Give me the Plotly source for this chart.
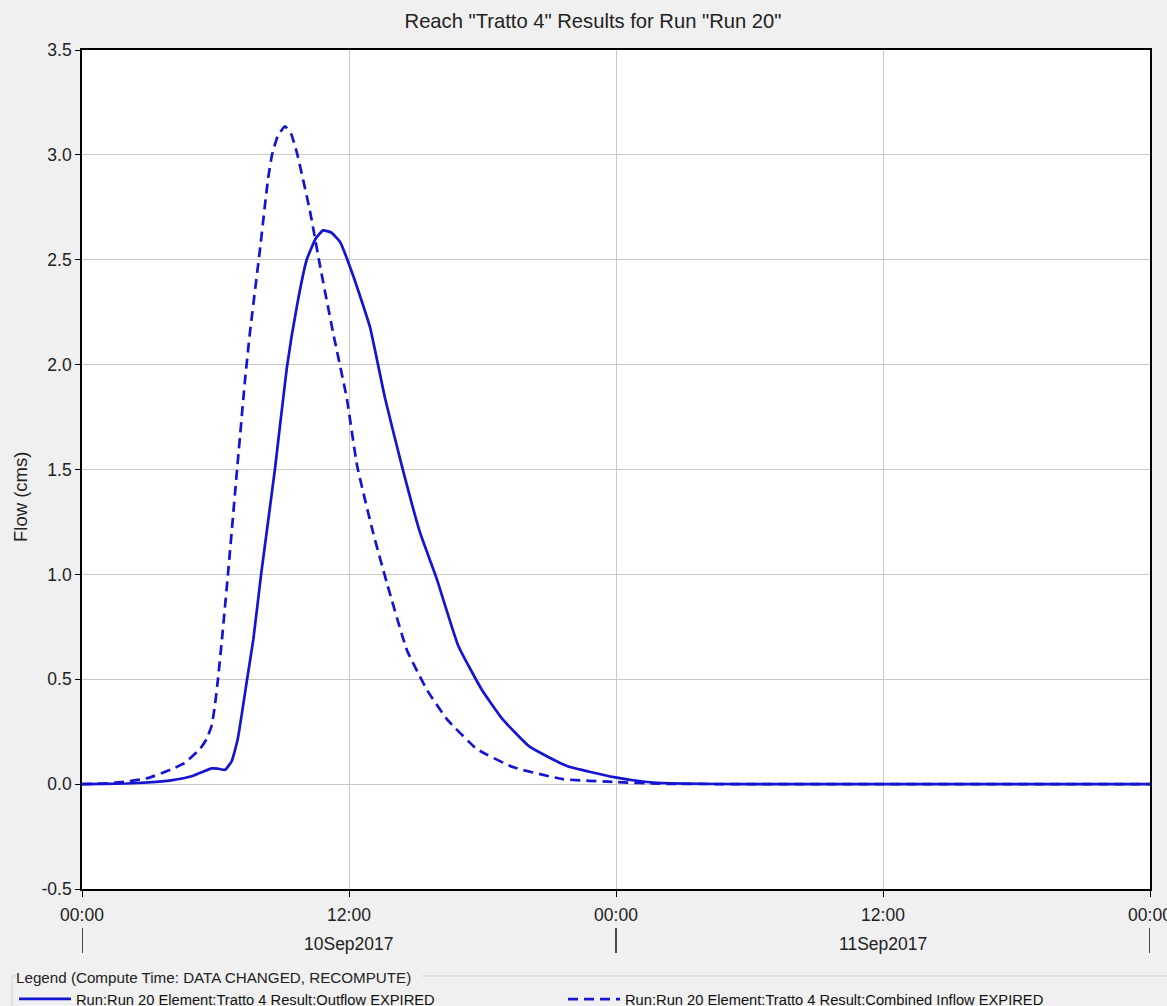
import pandas as pd
import plotly.graph_objects as go

# ---------------- data ----------------
base_time = "2017-09-10 00:00"

inflow_hours = [0, 1, 2, 3, 4, 4.6, 5.3, 5.6, 5.83, 5.98, 6.11, 6.29, 6.56, 6.97, 7.33, 7.55,
                8.0, 8.36, 8.54, 8.8, 9.12, 9.4, 9.66, 10.25, 10.7, 11.28, 11.9, 12.36, 13.08,
                13.7, 14.6, 15.5, 16.4, 17.75, 19.4, 21.6, 24, 26, 30, 36, 42, 48]
inflow_flow = [0, 0.003, 0.012, 0.03, 0.07, 0.1, 0.167, 0.215, 0.28, 0.38, 0.5, 0.69, 1.0, 1.5,
               1.93, 2.155, 2.55, 2.885, 3.0, 3.09, 3.136, 3.1, 3.01, 2.73, 2.47, 2.155, 1.84,
               1.52, 1.20, 0.96, 0.64, 0.45, 0.31, 0.167, 0.08, 0.024, 0.01, 0.002, 0, 0, 0, 0]

outflow_hours = [0, 1, 2, 3, 4, 5, 5.83, 6.1, 6.43, 6.73, 7.0, 7.42, 7.7, 8.05, 8.67, 9.2, 9.66,
                 10.1, 10.5, 10.83, 11.2, 11.6, 12.2, 12.94, 13.62, 14.37, 15.19, 15.94, 16.91,
                 17.97, 18.9, 20.1, 21.8, 23.9, 25.4, 27, 30, 36, 42, 48]
outflow_flow = [0, 0.001, 0.003, 0.008, 0.018, 0.04, 0.075, 0.074, 0.068, 0.11, 0.215, 0.5, 0.69,
                1.0, 1.5, 1.98, 2.28, 2.50, 2.6, 2.64, 2.63, 2.585, 2.42, 2.18, 1.84, 1.52, 1.20,
                0.98, 0.66, 0.45, 0.31, 0.18, 0.086, 0.033, 0.01, 0.002, 0, 0, 0, 0]

outflow_name = "Run:Run 20 Element:Tratto 4 Result:Outflow EXPIRED"
inflow_name = "Run:Run 20 Element:Tratto 4 Result:Combined Inflow EXPIRED"
title_text = 'Reach "Tratto 4" Results for Run "Run 20"'
y_title = "Flow (cms)"
legend_title = "Legend (Compute Time: DATA CHANGED, RECOMPUTE)"

y_tick_values = [-0.5, 0.0, 0.5, 1.0, 1.5, 2.0, 2.5, 3.0, 3.5]
y_tick_labels = ["-0.5", "0.0", "0.5", "1.0", "1.5", "2.0", "2.5", "3.0", "3.5"]

day_labels = ["10Sep2017", "11Sep2017"]
day_label_times = ["2017-09-10 12:00", "2017-09-11 12:00"]
day_boundaries = ["2017-09-10 00:00", "2017-09-11 00:00", "2017-09-12 00:00"]
x_range = ["2017-09-10 00:00", "2017-09-12 00:00"]
y_range = [-0.5, 3.5]

# ---------------- figure ----------------
t0 = pd.Timestamp(base_time)
outflow_t = t0 + pd.to_timedelta(outflow_hours, unit="h")
inflow_t = t0 + pd.to_timedelta(inflow_hours, unit="h")

W, H = 1167, 1006
L, R, T, B = 82, 17, 50, 117
pw, ph = W - L - R, H - T - B


def px_to_paper_y(py):
    return (H - B - py) / ph


def px_to_paper_x(px):
    return (px - L) / pw


LINE_COLOR = "#1414d2"
TEXT = "#222222"
FONT = "Liberation Sans, Arial, sans-serif"
LEG_FONT = dict(size=14.7, color="#111111")

fig = go.Figure()
fig.add_trace(go.Scatter(x=outflow_t, y=outflow_flow, mode="lines", name=outflow_name,
                         legend="legend",
                         line=dict(color=LINE_COLOR, width=2.7, shape="spline", smoothing=0.4)))
fig.add_trace(go.Scatter(x=inflow_t, y=inflow_flow, mode="lines", name=inflow_name,
                         legend="legend2",
                         line=dict(color=LINE_COLOR, width=2.7, dash="10px,6px",
                                   shape="spline", smoothing=0.4)))

fig.update_layout(
    width=W, height=H,
    margin=dict(l=L, r=R, t=T, b=B, autoexpand=False),
    paper_bgcolor="#f0f0f0",
    plot_bgcolor="white",
    font=dict(family=FONT, size=17, color=TEXT),
    title=dict(text=title_text, xref="container", x=593 / W, xanchor="center",
               yref="container", y=1 - 21 / H, yanchor="middle",
               font=dict(size=20.2, color=TEXT)),
    showlegend=True,
    legend=dict(orientation="h", xref="container", x=14 / W, xanchor="left",
                yref="container", y=1 - 963 / H, yanchor="top",
                bgcolor="rgba(0,0,0,0)", font=LEG_FONT, itemwidth=52,
                title=dict(text=legend_title, side="top", font=dict(size=15.2, color=TEXT))),
    legend2=dict(orientation="h", xref="container", x=563 / W, xanchor="left",
                 yref="container", y=1 - 983 / H, yanchor="top",
                 bgcolor="rgba(0,0,0,0)", font=LEG_FONT, itemwidth=52),
    xaxis=dict(
        type="date", range=x_range, dtick=12 * 3600 * 1000, tick0="2017-09-10 00:00",
        tickformat="%H:%M", showgrid=True, gridcolor="#c8c8c8", gridwidth=1,
        ticks="outside", ticklen=6, tickcolor="black", tickwidth=1.2, ticklabelstandoff=3,
        ticklabeloverflow="allow", automargin=False,
        showline=True, linecolor="black", linewidth=1.6, mirror=True,
        tickfont=dict(size=17.5, color=TEXT), zeroline=False,
    ),
    yaxis=dict(
        range=y_range, tickmode="array", tickvals=y_tick_values, ticktext=y_tick_labels,
        showgrid=True, gridcolor="#c8c8c8", gridwidth=1, ticks="outside", ticklen=5,
        tickcolor="black", tickwidth=1.2, ticklabelstandoff=0, automargin=False,
        showline=True, linecolor="black", linewidth=1.6, mirror=True,
        tickfont=dict(size=17.5, color=TEXT), zeroline=False,
    ),
)

# y-axis title
fig.add_annotation(text=y_title, xref="paper", yref="paper",
                   x=px_to_paper_x(21), y=px_to_paper_y(497), textangle=-90,
                   showarrow=False, font=dict(size=18.5, color=TEXT),
                   xanchor="center", yanchor="middle")

# date labels under the time ticks
for lbl, tm in zip(day_labels, day_label_times):
    fig.add_annotation(text=lbl, x=tm, xref="x", yref="paper", y=px_to_paper_y(944),
                       showarrow=False, font=dict(size=17.5, color=TEXT),
                       xanchor="center", yanchor="middle")

# day boundary marks
for tm in day_boundaries:
    fig.add_shape(type="line", xref="x", yref="paper", x0=tm, x1=tm,
                  y0=px_to_paper_y(928), y1=px_to_paper_y(953),
                  line=dict(color="#111111", width=1.5))

# legend group-box border
box_y = 976
fig.add_shape(type="line", xref="paper", yref="paper",
              x0=px_to_paper_x(12), x1=px_to_paper_x(16), y0=px_to_paper_y(box_y), y1=px_to_paper_y(box_y),
              line=dict(color="#d5d5d5", width=1))
fig.add_shape(type="line", xref="paper", yref="paper",
              x0=px_to_paper_x(422), x1=px_to_paper_x(W), y0=px_to_paper_y(box_y), y1=px_to_paper_y(box_y),
              line=dict(color="#d5d5d5", width=1))
fig.add_shape(type="line", xref="paper", yref="paper",
              x0=px_to_paper_x(12), x1=px_to_paper_x(12), y0=px_to_paper_y(box_y), y1=px_to_paper_y(H),
              line=dict(color="#d5d5d5", width=1))

fig.write_html("out.html", config={"displayModeBar": False},
               post_script="document.body.style.margin='0px';")
